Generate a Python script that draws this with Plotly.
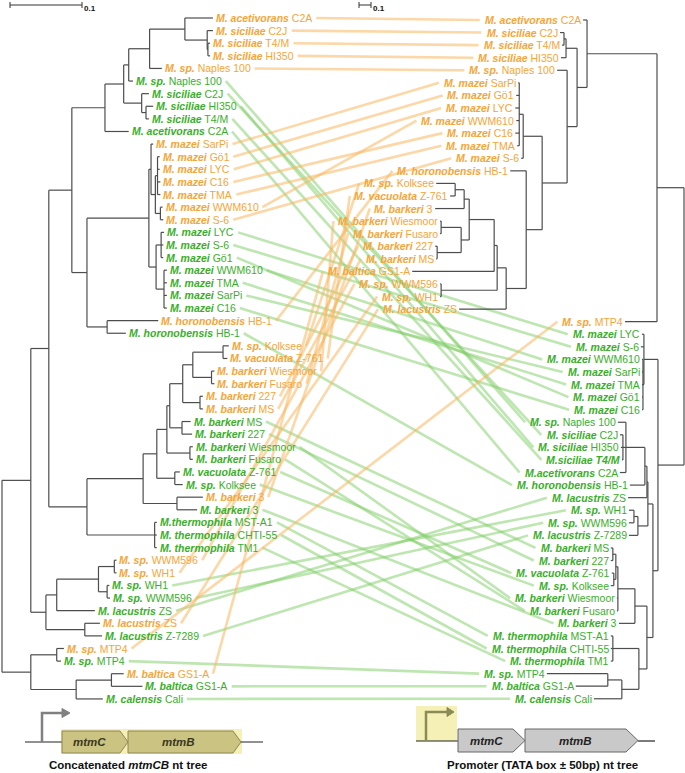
import plotly.graph_objects as go

FONT = "Liberation Sans"
ORANGE = "#F6A537"
GREEN = "#3AAE2A"
ORANGE_LINK = "rgba(250,182,95,0.55)"
GREEN_LINK = "rgba(125,205,100,0.5)"
TREE_COLOR = "#4d4d4d"
LABEL_SIZE = 10.5

# leaves top to bottom: (copy, species, strain); 'o' = orange copy, 'g' = green copy
LEFT_LEAVES = [
    ("o", "M. acetivorans", "C2A"), ("o", "M. siciliae", "C2J"), ("o", "M. siciliae", "T4/M"),
    ("o", "M. siciliae", "HI350"), ("o", "M. sp.", "Naples 100"), ("g", "M. sp.", "Naples 100"),
    ("g", "M. siciliae", "C2J"), ("g", "M. siciliae", "HI350"), ("g", "M. siciliae", "T4/M"),
    ("g", "M. acetivorans", "C2A"), ("o", "M. mazei", "SarPi"), ("o", "M. mazei", "Gö1"),
    ("o", "M. mazei", "LYC"), ("o", "M. mazei", "C16"), ("o", "M. mazei", "TMA"),
    ("o", "M. mazei", "WWM610"), ("o", "M. mazei", "S-6"), ("g", "M. mazei", "LYC"),
    ("g", "M. mazei", "S-6"), ("g", "M. mazei", "Gö1"), ("g", "M. mazei", "WWM610"),
    ("g", "M. mazei", "TMA"), ("g", "M. mazei", "SarPi"), ("g", "M. mazei", "C16"),
    ("o", "M. horonobensis", "HB-1"), ("g", "M. horonobensis", "HB-1"), ("o", "M. sp.", "Kolksee"),
    ("o", "M. vacuolata", "Z-761"), ("o", "M. barkeri", "Wiesmoor"), ("o", "M. barkeri", "Fusaro"),
    ("o", "M. barkeri", "227"), ("o", "M. barkeri", "MS"), ("g", "M. barkeri", "MS"),
    ("g", "M. barkeri", "227"), ("g", "M. barkeri", "Wiesmoor"), ("g", "M. barkeri", "Fusaro"),
    ("g", "M. vacuolata", "Z-761"), ("g", "M. sp.", "Kolksee"), ("o", "M. barkeri", "3"),
    ("g", "M. barkeri", "3"), ("g", "M.thermophila", "MST-A1"), ("g", "M. thermophila", "CHTI-55"),
    ("g", "M. thermophila", "TM1"), ("o", "M. sp.", "WWM596"), ("o", "M. sp.", "WH1"),
    ("g", "M. sp.", "WH1"), ("g", "M. sp.", "WWM596"), ("g", "M. lacustris", "ZS"),
    ("o", "M. lacustris", "ZS"), ("g", "M. lacustris", "Z-7289"), ("o", "M. sp.", "MTP4"),
    ("g", "M. sp.", "MTP4"), ("o", "M. baltica", "GS1-A"), ("g", "M. baltica", "GS1-A"),
    ("g", "M. calensis", "Cali"),
]

RIGHT_LEAVES = [
    ("o", "M. acetivorans", "C2A"), ("o", "M. siciliae", "C2J"), ("o", "M. siciliae", "T4/M"),
    ("o", "M. siciliae", "HI350"), ("o", "M. sp.", "Naples 100"), ("o", "M. mazei", "SarPi"),
    ("o", "M. mazei", "Gö1"), ("o", "M. mazei", "LYC"), ("o", "M. mazei", "WWM610"),
    ("o", "M. mazei", "C16"), ("o", "M. mazei", "TMA"), ("o", "M. mazei", "S-6"),
    ("o", "M. horonobensis", "HB-1"), ("o", "M. sp.", "Kolksee"), ("o", "M. vacuolata", "Z-761"),
    ("o", "M. barkeri", "3"), ("o", "M. barkeri", "Wiesmoor"), ("o", "M. barkeri", "Fusaro"),
    ("o", "M. barkeri", "227"), ("o", "M. barkeri", "MS"), ("o", "M. baltica", "GS1-A"),
    ("o", "M. sp.", "WWM596"), ("o", "M. sp.", "WH1"), ("o", "M. lacustris", "ZS"),
    ("o", "M. sp.", "MTP4"), ("g", "M. mazei", "LYC"), ("g", "M. mazei", "S-6"),
    ("g", "M. mazei", "WWM610"), ("g", "M. mazei", "SarPi"), ("g", "M. mazei", "TMA"),
    ("g", "M. mazei", "Gö1"), ("g", "M. mazei", "C16"), ("g", "M. sp.", "Naples 100"),
    ("g", "M. siciliae", "C2J"), ("g", "M. siciliae", "HI350"), ("g", "M.siciliae T4/M", ""),
    ("g", "M.acetivorans", "C2A"), ("g", "M. horonobensis", "HB-1"), ("g", "M. lacustris", "ZS"),
    ("g", "M. sp.", "WH1"), ("g", "M. sp.", "WWM596"), ("g", "M. lacustris", "Z-7289"),
    ("g", "M. barkeri", "MS"), ("g", "M. barkeri", "227"), ("g", "M. vacuolata", "Z-761"),
    ("g", "M. sp.", "Kolksee"), ("g", "M. barkeri", "Wiesmoor"), ("g", "M. barkeri", "Fusaro"),
    ("g", "M. barkeri", "3"), ("g", "M. thermophila", "MST-A1"), ("g", "M. thermophila", "CHTI-55"),
    ("g", "M. thermophila", "TM1"), ("g", "M. sp.", "MTP4"), ("g", "M. baltica", "GS1-A"),
    ("g", "M. calensis", "Cali"),
]

# left tree: concatenated mtmCB nt (leaf names = index in LEFT_LEAVES)
c_sic_o = "(0:0.039,(1:0.008,(2:0.003,3:0.003):0.001):0.031):0.049"
c_nap = f"(({c_sic_o},4:0.017):0.029,5:0.006):0.007"
c_sic_g = "(6:0.010,(7:0.010,8:0.004):0.006):0.025"
c_acet = f"(({c_nap},{c_sic_g}):0.026,9:0.033):0.046"
c_maz_o = "(10:0.003,((11:0.003,12:0.003,13:0.004,14:0.004):0.003,(15:0.003,16:0.004):0.007):0.006):0.003"
c_maz_g = "((17:0.004,18:0.003,19:0.003):0.007,(20:0.004,21:0.004,22:0.004,23:0.004):0.011):0.010"
c_maz = f"(({c_maz_o},{c_maz_g}):0.086,(24:0.071,25:0.026):0.028):0.021"
c_top = f"({c_acet},{c_maz}):0.032"
c_bark_o = "(((26:0.008,27:0.006):0.042,(28:0.004,29:0.004):0.026):0.014,(30:0.004,31:0.004):0.024):0.018"
c_bark = f"((({c_bark_o},(32:0.012,33:0.014):0.017):0.004,(34:0.004,35:0.004):0.032):0.014,(36:0.007,37:0.011):0.025):0.019"
c_bt = f"(({c_bark},(38:0.036,39:0.028):0.047):0.078,(40:0.003,41:0.003,42:0.003):0.094):0.053"
c_wh = "(((43:0.003,44:0.003):0.022,(45:0.003,46:0.004):0.012):0.058,47:0.053):0.015"
c_lac = f"({c_wh},(48:0.021,49:0.024):0.054):0.021"
c_main = f"(({c_top},{c_bt}):0.025,{c_lac}):0.040"
c_base = "((50:0.010,51:0.006):0.036,((52:0.017,53:0.043):0.049,54:0.037):0.063):0.040"
LEFT_NEWICK = f"({c_main},{c_base});"

# right tree: promoter (TATA box +/- 50bp) nt (leaf names = index in RIGHT_LEAVES)
r_sic = "((1:0.033,2:0.017):0.017,3:0.042):0.092"
r_maz = "((5:0.008,6:0.025,7:0.033,8:0.025,9:0.033,10:0.017):0.033,11:0.017):0.158"
r_bark = ("((((13:0.158,14:0.042):0.075,15:0.242):0.042,((16:0.008,17:0.008):0.167,"
          "(18:0.017,19:0.008):0.2):0.067):0.208,20:0.683):0.025")
r_hor = f"(12:0.133,(({r_bark},(21:0.008,22:0.008):0.467):0.075,23:0.392):0.167):0.133"
r_orange = f"((0:0.033,({r_sic},(4:0.083,({r_maz},{r_hor}):0.208):0.083):0.083):0.583,24:0.267):0.225"
g_maz = "(25:0.017,26:0.025,(27:0.008,28:0.008,29:0.008,30:0.008,31:0.008):0.008):0.117"
g_sic = ("((((32:0.067,(33:0.025,34:0.017,35:0.008):0.025,36:0.05):0.158,37:0.125):0.017,38:0.158):0.008,"
         "((39:0.042,40:0.042):0.033,41:0.075):0.083):0.042")
g_bark = "((((42:0.017,43:0.017):0.025,(44:0.017,45:0.025):0.017):0.017,46:0.008,47:0.008):0.142,48:0.133):0.1"
g_base = "((49:0.017,50:0.017,51:0.017):0.217,((52:0.508,53:0.267):0.117,54:0.233):0.142):0.067"
r_green = f"({g_maz},({g_sic},({g_bark},{g_base}):0.05):0.042):0.217"
RIGHT_NEWICK = f"({r_orange},{r_green});"

SCALE_BAR = 0.1

# Arial / Liberation Sans advance widths (per 1000 em)
REG_W = dict(zip(" .-/0123456789", [278, 278, 333, 278] + [556] * 10))
REG_W.update(dict(zip("ABCDEFGHIKLMNPRSTWYZ", [667, 667, 722, 722, 667, 611, 778, 722, 278, 667,
                                                 556, 833, 722, 667, 722, 667, 611, 944, 667, 611])))
REG_W.update(dict(zip("abcdefghiklmnoprstuvwxyzö", [556, 556, 500, 556, 556, 278, 556, 556, 222, 500,
                                                       222, 833, 556, 556, 556, 333, 500, 278, 556, 500,
                                                       722, 500, 500, 500, 556])))
BOLD_W = dict(zip(" .-/0123456789", [278, 278, 333, 278] + [556] * 10))
BOLD_W.update({"M": 833, "T": 611})
BOLD_W.update(dict(zip("abcdeghiklmnoprstuvyz", [556, 611, 556, 611, 556, 611, 611, 278, 556, 278,
                                                   889, 611, 611, 611, 389, 556, 333, 611, 556, 556, 500])))


def label_width(species, strain):
    w = sum(BOLD_W.get(c, 600) for c in species)
    if strain:
        w += REG_W[" "] + sum(REG_W.get(c, 556) for c in strain)
    return w * LABEL_SIZE / 1000


def label_text(species, strain):
    return f"<b><i>{species}</i></b> {strain}" if strain else f"<b><i>{species}</i></b>"


def parse_newick(text):
    text = text.strip().rstrip(";")
    pos = 0

    def read():
        nonlocal pos
        kids = []
        if text[pos] == "(":
            pos += 1
            kids.append(read())
            while text[pos] == ",":
                pos += 1
                kids.append(read())
            pos += 1
        start = pos
        while pos < len(text) and text[pos] not in ",():":
            pos += 1
        name = text[start:pos]
        length = 0.0
        if pos < len(text) and text[pos] == ":":
            pos += 1
            start = pos
            while pos < len(text) and text[pos] not in ",()":
                pos += 1
            length = float(text[start:pos])
        return {"name": name, "len": length, "kids": kids}

    return read()


def draw_tree(root, x_root, sign, px_per_unit, y_first, y_step):
    xs, ys, tips = [], [], {}

    def walk(node, x_parent):
        x = x_parent + sign * node["len"] * px_per_unit
        if node["kids"]:
            child_y = [walk(k, x) for k in node["kids"]]
            y = (child_y[0] + child_y[-1]) / 2
            xs.extend([x, x, None])
            ys.extend([child_y[0], child_y[-1], None])
        else:
            leaf = int(node["name"])
            y = y_first + leaf * y_step
            tips[leaf] = (x, y)
        xs.extend([x_parent, x, None])
        ys.extend([y, y, None])
        return y

    walk(root, x_root)
    return xs, ys, tips


LEFT_PX = 720    # pixels per substitution/site
RIGHT_PX = 120
lx, ly, left_tips = draw_tree(parse_newick(LEFT_NEWICK), 2, 1, LEFT_PX, 18, 12.61)
rx, ry, right_tips = draw_tree(parse_newick(RIGHT_NEWICK), 684, -1, RIGHT_PX, 20, 12.57)

fig = go.Figure()
annotations = []
shapes = []


def key(sp, st):
    return (sp + st).replace(" ", "").replace(".", "")


right_index = {(g, key(sp, st)): j for j, (g, sp, st) in enumerate(RIGHT_LEAVES)}

# links between the two trees
for copy, link_col in [("g", GREEN_LINK), ("o", ORANGE_LINK)]:
    for i, (g, sp, st) in enumerate(LEFT_LEAVES):
        if g != copy:
            continue
        j = right_index[(g, key(sp, st))]
        _, spr, strr = RIGHT_LEAVES[j]
        x0 = left_tips[i][0] + 3 + label_width(sp, st) + 4
        x1 = right_tips[j][0] - 2 - label_width(spr, strr) - 5
        fig.add_trace(go.Scatter(x=[x0, x1], y=[left_tips[i][1], right_tips[j][1]], mode="lines",
                                 line=dict(color=link_col, width=2.6), hoverinfo="skip",
                                 showlegend=False))

for xs, ys in [(lx, ly), (rx, ry)]:
    fig.add_trace(go.Scatter(x=xs, y=ys, mode="lines", line=dict(color=TREE_COLOR, width=1.2),
                             hoverinfo="skip", showlegend=False))

for i, (g, sp, st) in enumerate(LEFT_LEAVES):
    x, y = left_tips[i]
    annotations.append(dict(x=x + 3, y=y, text=label_text(sp, st), xanchor="left", yanchor="middle",
                            font=dict(color=ORANGE if g == "o" else GREEN)))
for j, (g, sp, st) in enumerate(RIGHT_LEAVES):
    x, y = right_tips[j]
    annotations.append(dict(x=x - 2, y=y, text=label_text(sp, st), xanchor="right", yanchor="middle",
                            font=dict(color=ORANGE if g == "o" else GREEN)))

# scale bars
for x0, px in [(10, LEFT_PX), (359, RIGHT_PX)]:
    x1 = x0 + SCALE_BAR * px
    fig.add_trace(go.Scatter(x=[x0, x1, None, x0, x0, None, x1, x1], y=[5, 5, None, 2, 8, None, 2, 8],
                             mode="lines", line=dict(color="#333", width=1), hoverinfo="skip",
                             showlegend=False))
    annotations.append(dict(x=x1 + 2, y=8, text=f"<b>{SCALE_BAR}</b>", xanchor="left", yanchor="middle",
                            font=dict(size=8, color="#111")))


# gene cartoons
def gene_path(x0, x1, head, y0, y1):
    ym = (y0 + y1) / 2
    return f"M{x0},{y0} L{x1 - head},{y0} L{x1},{ym} L{x1 - head},{y1} L{x0},{y1} Z"


def line(x0, y0, x1, y1, color="#222", width=1.2):
    shapes.append(dict(type="line", x0=x0, y0=y0, x1=x1, y1=y1, line=dict(color=color, width=width)))


YELLOW = "#F5F0B5"
# left: concatenated tree
shapes.append(dict(type="rect", x0=61, x1=242, y0=729, y1=754, fillcolor=YELLOW, line=dict(width=0),
                   layer="below"))
line(25, 742, 263, 742)
shapes.append(dict(type="path", path="M42,742 L42,713 L62,713", line=dict(color="#808080", width=2.5)))
shapes.append(dict(type="path", path="M62,708.5 L70,713 L62,717.5 Z", fillcolor="#808080",
                   line=dict(color="#808080", width=1)))
for name, x0, x1, xc in [("mtmC", 62, 128, 89), ("mtmB", 128, 241, 178)]:
    shapes.append(dict(type="path", path=gene_path(x0, x1, 8, 731, 753), fillcolor="#CBC382",
                       line=dict(color="#8E8852", width=1)))
    annotations.append(dict(x=xc, y=742, text=f"<b><i>{name}</i></b>", xanchor="center",
                            yanchor="middle", font=dict(size=11.5, color="#3a3720")))
annotations.append(dict(x=128, y=765, text="<b>Concatenated <i>mtmCB</i> nt tree</b>", xanchor="center",
                        yanchor="middle", font=dict(size=11.5, color="#111")))

# right: promoter tree
shapes.append(dict(type="rect", x0=416, x1=457, y0=706, y1=741, fillcolor=YELLOW, line=dict(width=0),
                   layer="below"))
line(416, 741, 458, 741)
line(638, 741, 655, 741)
shapes.append(dict(type="path", path="M426,741 L426,712 L447,712", line=dict(color="#8C8A55", width=2.5)))
shapes.append(dict(type="path", path="M447,707.5 L454,712 L447,716.5 Z", fillcolor="#8C8A55",
                   line=dict(color="#8C8A55", width=1)))
for name, x0, x1, xc in [("mtmC", 458, 525, 486), ("mtmB", 525, 638, 575)]:
    shapes.append(dict(type="path", path=gene_path(x0, x1, 12, 729, 752), fillcolor="#C9C9C9",
                       line=dict(color="#666", width=1)))
    annotations.append(dict(x=xc, y=740.5, text=f"<b><i>{name}</i></b>", xanchor="center",
                            yanchor="middle", font=dict(size=11.5, color="#222")))
annotations.append(dict(x=542, y=765, text="<b>Promoter (TATA box ± 50bp) nt tree</b>", xanchor="center",
                        yanchor="middle", font=dict(size=11.5, color="#111")))

for a in annotations:
    a.update(xref="x", yref="y", showarrow=False, borderpad=0, borderwidth=0)
    a["font"].setdefault("size", LABEL_SIZE)
    a["font"]["family"] = FONT

fig.update_layout(
    width=685, height=773,
    margin=dict(l=0, r=0, t=0, b=0),
    paper_bgcolor="white", plot_bgcolor="white",
    xaxis=dict(range=[0, 685], visible=False, fixedrange=True),
    yaxis=dict(range=[773, 0], visible=False, fixedrange=True),
    annotations=annotations, shapes=shapes, showlegend=False,
)
# the page's default body margin would push the figure 8px off the window
fig.write_html("out.html", config={"displayModeBar": False},
               post_script="document.body.style.margin = '0px';")
